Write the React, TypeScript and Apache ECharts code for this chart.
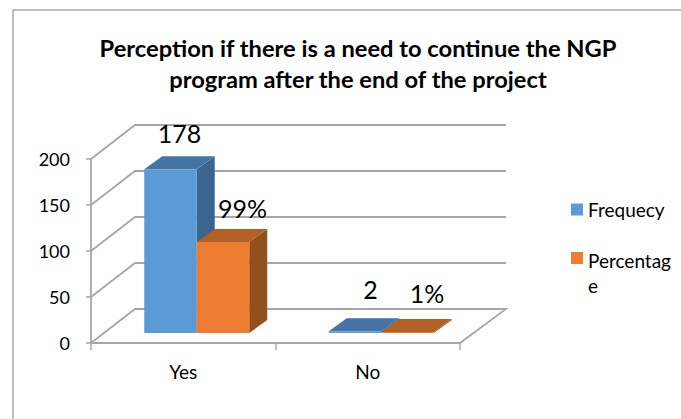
import React, { useEffect, useRef } from "react";
import * as echarts from "echarts";

const categories = ["Yes", "No"];
const frequency = [178, 2];
const percentage = [99, 1];
const frequencyLabels = ["178", "2"];
const percentageLabels = ["99%", "1%"];
const yTicks = [0, 50, 100, 150, 200];
const titleText = "Perception if there is a need to continue the NGP\nprogram after the end of the project";

const FONT = "Lato";
const GRID_COLOR = "#a6a6a6";
const WALL_DX = 44;
const WALL_DY = -34;
const BAR_WIDTH = 52.5;
const BAR_SHIFT_X = 13.5;
const BAR_SHIFT_Y = -10;
const DEPTH_DX = 18;
const DEPTH_DY = -13;
// label placement relative to the front-top centre of each bar, per series then per category
const labelNudge = [
  [[9, -36], [15.5, -42]],
  [[19.5, -34], [19.5, -39]],
];

function wallItem(params: any, api: any) {
  const cs = params.coordSys;
  const v = api.value(0);
  const y = api.coord([0, v])[1];
  const left = cs.x;
  const right = cs.x + cs.width;
  const lineStyle = { stroke: GRID_COLOR, lineWidth: 1.8, fill: "none" };
  const pts: number[][] = [
    [left, y],
    [left + WALL_DX, y + WALL_DY],
    [right + WALL_DX + 2, y + WALL_DY],
  ];
  if (v === 0) pts.push([right, y]);
  return { type: "polyline", shape: { points: pts }, style: lineStyle, silent: true };
}

function barRenderer(seriesPos: number, front: string, top: string, side: string, labels: string[]) {
  return (params: any, api: any) => {
    const idx = api.value(0);
    const base = api.coord([idx, 0]);
    const head = api.coord([idx, api.value(1)]);
    const x0 = base[0] + BAR_SHIFT_X - BAR_WIDTH + seriesPos * BAR_WIDTH;
    const x1 = x0 + BAR_WIDTH;
    const yb = base[1] + BAR_SHIFT_Y;
    const yt = head[1] + BAR_SHIFT_Y;
    const n = labelNudge[seriesPos][idx];
    return {
      type: "group",
      children: [
        {
          type: "polygon",
          shape: { points: [[x1, yb], [x1 + DEPTH_DX, yb + DEPTH_DY], [x1 + DEPTH_DX, yt + DEPTH_DY], [x1, yt]] },
          style: { fill: side },
        },
        {
          type: "polygon",
          shape: { points: [[x0, yt], [x1, yt], [x1 + DEPTH_DX, yt + DEPTH_DY], [x0 + DEPTH_DX, yt + DEPTH_DY]] },
          style: { fill: top },
        },
        { type: "rect", shape: { x: x0, y: yt, width: BAR_WIDTH, height: yb - yt }, style: { fill: front } },
        {
          type: "text",
          x: (x0 + x1) / 2 + n[0],
          y: yt + n[1],
          style: {
            text: labels[idx],
            fill: "#000",
            font: `25px ${FONT}`,
            textAlign: "center",
            textVerticalAlign: "middle",
          },
        },
      ],
    };
  };
}

export default function App() {
  const ref = useRef<HTMLDivElement>(null);
  useEffect(() => {
    const chart = echarts.init(ref.current!, null, { renderer: "svg" });
    const legendText = { fontFamily: FONT, fontSize: 19, color: "#000", lineHeight: 25 };
    chart.setOption({
      animation: false,
      backgroundColor: "#fff",
      title: {
        text: titleText,
        left: 353,
        top: 27,
        textAlign: "center",
        textStyle: { fontFamily: FONT, fontSize: 23.7, fontWeight: "bold", color: "#000", lineHeight: 31 },
      },
      grid: { left: 91, right: 221, top: 159, bottom: 76 },
      xAxis: {
        type: "category",
        data: categories,
        axisLine: { lineStyle: { color: GRID_COLOR, width: 1.8 } },
        axisTick: { show: true, length: 7, lineStyle: { color: GRID_COLOR, width: 1.5 } },
        axisLabel: { fontFamily: FONT, fontSize: 19, color: "#000", margin: 19 },
      },
      yAxis: {
        type: "value",
        min: 0,
        max: 200,
        interval: 50,
        splitLine: { show: false },
        axisLine: { show: true, lineStyle: { color: GRID_COLOR, width: 1.8 } },
        axisTick: { show: true, length: 5, lineStyle: { color: GRID_COLOR, width: 1.5 } },
        axisLabel: { fontFamily: FONT, fontSize: 18, color: "#000", margin: 21, padding: [4, 0, 0, 0] },
      },
      legend: [
        {
          orient: "vertical",
          left: 566,
          top: 192,
          itemWidth: 12,
          itemHeight: 12,
          icon: "rect",
          data: ["Frequecy"],
          textStyle: legendText,
        },
        {
          orient: "vertical",
          left: 566,
          top: 242.5,
          itemWidth: 12,
          itemHeight: 41,
          // square in the upper part of the icon box, so it sits beside the first text line
          icon: "path://M0 0H12V12H0Z M0 41L12 41Z",
          data: ["Percentag\ne"],
          textStyle: legendText,
        },
      ],
      graphic: [
        {
          type: "rect",
          shape: { x: 13, y: 10, width: 720, height: 460 },
          style: { fill: "none", stroke: "#a8a8a8", lineWidth: 1.5 },
          silent: true,
          z: 0,
        },
      ],
      series: [
        {
          type: "custom",
          name: "walls",
          data: yTicks.map((v) => [v]),
          encode: { y: 0 },
          renderItem: wallItem,
          z: 1,
          silent: true,
        },
        {
          type: "custom",
          name: "Frequecy",
          data: categories.map((_, i) => [i, frequency[i]]),
          encode: { x: 0, y: 1 },
          itemStyle: { color: "#5b9bd5" },
          renderItem: barRenderer(0, "#5b9bd5", "#4474a3", "#3a6590", frequencyLabels),
          z: 2,
        },
        {
          type: "custom",
          name: "Percentag\ne",
          data: categories.map((_, i) => [i, percentage[i]]),
          encode: { x: 0, y: 1 },
          itemStyle: { color: "#ed7d31" },
          renderItem: barRenderer(1, "#ed7d31", "#b45f23", "#93501c", percentageLabels),
          z: 3,
        },
      ],
    });
    return () => chart.dispose();
  }, []);
  return <div ref={ref} style={{ position: "absolute", left: 0, top: 0, width: 681, height: 419 }} />;
}
